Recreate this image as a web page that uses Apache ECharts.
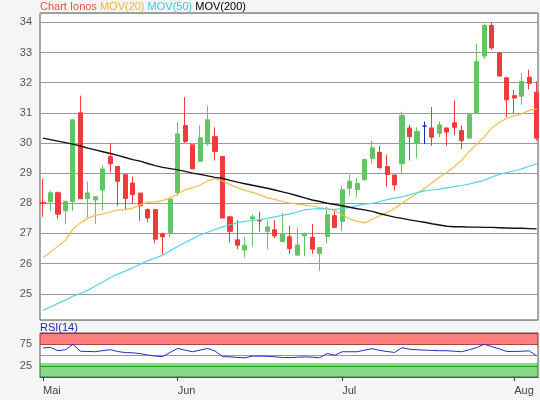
<!DOCTYPE html>
<html>
<head>
<meta charset="utf-8">
<title>Chart Ionos</title>
<script src="https://cdn.jsdelivr.net/npm/echarts@6/dist/echarts.min.js"></script>
<style>
  html, body { margin: 0; padding: 0; background: #f5f5f5; }
  #chart { width: 540px; height: 400px; }
</style>
</head>
<body>
<div id="chart"></div>
<script>
// Tageskerzen (Eröffnung, Schluss, Tief, Hoch)
const opens = [
  28.03, 28.06, 28.35, 27.75, 28.06, 31.00, 28.16, 28.11, 28.44, 29.55,
  29.22, 28.95, 28.67, 28.34, 27.79, 27.79, 26.98, 27.03, 28.36, 30.58,
  29.94, 29.39, 29.97, 30.21, 29.55, 27.55, 26.79, 26.45, 27.48, 27.44,
  27.07, 27.12, 26.73, 26.89, 26.28, 26.92, 26.87, 26.34, 26.90, 27.59,
  27.40, 28.50, 28.45, 28.78, 29.49, 29.69, 29.22, 28.94, 29.31, 30.50,
  29.99, 30.56, 30.50, 30.32, 30.50, 30.67, 30.41, 30.16, 30.99, 32.88,
  33.90, 32.99, 32.16, 31.57, 31.55, 32.18, 31.68
]
const closes = [
  28.00, 28.35, 27.64, 28.06, 30.77, 28.15, 28.34, 28.22, 29.14, 29.31,
  28.73, 28.16, 28.29, 27.92, 27.51, 26.81, 26.89, 28.14, 30.30, 30.05,
  29.14, 30.17, 30.77, 29.72, 27.51, 27.07, 26.61, 26.61, 27.55, 27.41,
  27.22, 26.92, 26.98, 26.50, 26.62, 26.98, 26.48, 26.53, 27.62, 27.20,
  28.45, 28.73, 28.66, 29.45, 29.84, 29.19, 28.95, 28.61, 30.91, 30.21,
  30.38, 30.56, 30.19, 30.60, 30.36, 30.52, 30.08, 30.94, 32.70, 33.90,
  33.15, 32.22, 31.43, 31.49, 32.04, 31.98, 30.16
]
const lows = [
  27.55, 27.75, 27.48, 27.31, 27.75, 28.14, 27.53, 27.31, 27.78, 29.03,
  27.92, 27.81, 27.98, 27.42, 27.37, 26.67, 26.31, 26.87, 28.25, 30.00,
  29.14, 29.39, 29.91, 29.42, 27.51, 26.70, 26.48, 26.20, 26.56, 27.06,
  26.48, 26.85, 26.70, 26.32, 26.28, 26.24, 26.32, 25.76, 26.67, 27.20,
  27.07, 28.25, 28.20, 28.75, 29.31, 29.14, 28.55, 28.42, 28.97, 29.42,
  29.49, 29.97, 29.91, 30.19, 29.91, 30.25, 29.80, 30.16, 30.97, 32.79,
  33.09, 32.20, 30.85, 30.99, 31.27, 31.77, 30.08
]
const highs = [
  28.81, 28.42, 28.39, 28.09, 30.78, 31.57, 28.72, 28.22, 29.25, 30.00,
  29.22, 28.95, 28.89, 28.34, 27.83, 27.79, 27.03, 28.14, 30.69, 31.52,
  29.94, 30.58, 31.24, 30.52, 29.55, 27.59, 27.44, 26.89, 27.64, 27.72,
  27.44, 27.45, 27.68, 27.26, 27.20, 27.03, 27.31, 26.53, 27.89, 27.75,
  28.58, 28.94, 28.84, 29.45, 30.08, 29.91, 29.61, 28.94, 31.04, 30.61,
  30.52, 30.71, 31.19, 30.71, 30.50, 31.41, 30.58, 30.94, 33.29, 33.96,
  33.99, 32.99, 32.18, 31.76, 32.32, 32.43, 32.04
]
// gleitende Durchschnitte
const mov20 = [
  26.20, 26.38, 26.58, 26.77, 27.15, 27.35, 27.50, 27.60, 27.65, 27.71,
  27.78, 27.79, 27.84, 27.95, 28.04, 28.05, 28.09, 28.18, 28.31, 28.45,
  28.52, 28.60, 28.75, 28.82, 28.74, 28.62, 28.52, 28.43, 28.36, 28.28,
  28.18, 28.13, 28.06, 28.01, 27.97, 27.94, 27.91, 27.86, 27.82, 27.76,
  27.62, 27.48, 27.40, 27.35, 27.47, 27.58, 27.70, 27.83, 28.00, 28.17,
  28.33, 28.48, 28.67, 28.87, 29.02, 29.22, 29.44, 29.72, 29.97, 30.20,
  30.50, 30.68, 30.82, 30.90, 30.97, 31.08, 31.13
]
const mov50 = [
  24.45, 24.56, 24.68, 24.79, 24.92, 25.01, 25.12, 25.26, 25.39, 25.54,
  25.65, 25.75, 25.86, 25.98, 26.10, 26.18, 26.28, 26.43, 26.57, 26.70,
  26.82, 26.95, 27.04, 27.13, 27.22, 27.29, 27.36, 27.40, 27.43, 27.46,
  27.50, 27.55, 27.60, 27.65, 27.71, 27.78, 27.81, 27.82, 27.81, 27.80,
  27.82, 27.86, 27.92, 27.97, 28.00, 28.05, 28.12, 28.17, 28.21, 28.28,
  28.35, 28.41, 28.44, 28.47, 28.51, 28.55, 28.59, 28.64, 28.70, 28.76,
  28.87, 28.96, 29.02, 29.07, 29.14, 29.23, 29.31
]
const mov200 = [
  30.16, 30.11, 30.06, 30.01, 29.96, 29.90, 29.83, 29.77, 29.71, 29.65,
  29.59, 29.52, 29.45, 29.40, 29.32, 29.25, 29.19, 29.15, 29.11, 29.06,
  29.00, 28.96, 28.91, 28.86, 28.83, 28.76, 28.70, 28.65, 28.60, 28.55,
  28.50, 28.44, 28.38, 28.32, 28.25, 28.18, 28.11, 28.06, 28.00, 27.96,
  27.92, 27.87, 27.82, 27.78, 27.73, 27.66, 27.60, 27.54, 27.50, 27.45,
  27.41, 27.37, 27.32, 27.28, 27.24, 27.22, 27.22, 27.21, 27.21, 27.20,
  27.20, 27.19, 27.18, 27.17, 27.17, 27.16, 27.15
]
const rsi14 = [
  65.8, 67.4, 59.7, 62.0, 74.5, 58.5, 58.0, 57.5, 60.0, 62.0,
  58.0, 55.5, 55.0, 53.0, 50.0, 47.5, 46.5, 56.0, 65.0, 61.0,
  57.4, 61.0, 65.0, 59.0, 46.5, 45.8, 44.5, 43.5, 47.5, 47.5,
  47.0, 46.0, 44.5, 44.0, 45.0, 45.8, 45.0, 44.0, 53.5, 49.5,
  57.4, 57.4, 57.4, 61.0, 64.4, 60.5, 58.0, 55.8, 66.7, 63.0,
  62.0, 61.0, 60.5, 59.7, 59.7, 58.5, 57.4, 62.0, 67.0, 74.5,
  69.0, 64.0, 58.0, 58.0, 58.5, 59.5, 48.0
]
// Achsen
const priceTicks = [25, 26, 27, 28, 29, 30, 31, 32, 33, 34]
const monthStarts = [0, 18, 40, 63]
const monthNames = ['Mai', 'Jun', 'Jul', 'Aug']

const green = '#63c463'
const red = '#ef3b3b'
const xMin = -0.4
const xMax = 66.18

const chart = echarts.init(document.getElementById('chart'))

const option = {
  backgroundColor: '#f5f5f5',
  animation: false,
  textStyle: {
    fontFamily: 'Liberation Sans, Arial, sans-serif'
  },
  title: [{
    left: 40,
    top: 1,
    padding: 0,
    text: '{a|Chart Ionos} {b|MOV(20)} {c|MOV(50)} {d|MOV(200)}',
    textStyle: {
      fontSize: 11,
      fontWeight: 'normal',
      rich: {
        a: { color: '#e8553c', fontSize: 11 },
        b: { color: '#f5b731', fontSize: 11 },
        c: { color: '#3fc6e2', fontSize: 11 },
        d: { color: '#000', fontSize: 11 }
      }
    }
  }, {
    left: 40,
    top: 322,
    padding: 0,
    text: 'RSI(14)',
    textStyle: {
      fontSize: 11,
      fontWeight: 'normal',
      color: '#2222b0'
    }
  }],
  grid: [{
    left: 40,
    right: 2,
    top: 13,
    bottom: 80,
    show: true,
    backgroundColor: '#fff',
    borderColor: '#555',
    borderWidth: 1
  }, {
    left: 40,
    right: 2,
    top: 333,
    bottom: 23,
    show: true,
    backgroundColor: '#fff',
    borderColor: '#555',
    borderWidth: 1
  }],
  xAxis: [{
    gridIndex: 0,
    type: 'value',
    min: xMin,
    max: xMax,
    axisLine: { show: false },
    axisTick: { show: false },
    axisLabel: { show: false },
    splitLine: { show: false }
  }, {
    gridIndex: 1,
    type: 'value',
    min: xMin,
    max: xMax,
    axisLine: { show: true, lineStyle: { color: '#555' } },
    axisTick: {
      show: true,
      length: 4,
      customValues: monthStarts,
      lineStyle: { color: '#333' }
    },
    axisLabel: {
      customValues: monthStarts,
      align: 'left',
      margin: 8,
      fontSize: 11,
      color: '#444',
      formatter: (v) => monthNames[monthStarts.indexOf(v)]
    },
    splitLine: { show: false }
  }],
  yAxis: [{
    gridIndex: 0,
    type: 'value',
    min: 24.13,
    max: 34.31,
    splitNumber: 10,
    axisLine: { show: false },
    axisTick: { show: false },
    axisLabel: {
      customValues: priceTicks,
      margin: 8,
      fontSize: 11,
      color: '#555'
    },
    splitLine: { lineStyle: { color: '#999' } }
  }, {
    gridIndex: 1,
    type: 'value',
    min: 0,
    max: 100,
    interval: 25,
    axisLine: { show: false },
    axisTick: { show: false },
    axisLabel: {
      margin: 8,
      fontSize: 11,
      color: '#555',
      formatter: (v) => (v === 25 || v === 75) ? v : ''
    },
    splitLine: {
      lineStyle: { color: ['#555', '#2f8f2f', '#999', '#b04040', '#555'] }
    }
  }],
  series: [{
    name: 'Ionos',
    type: 'candlestick',
    xAxisIndex: 0,
    yAxisIndex: 0,
    barWidth: 4.6,
    itemStyle: {
      color: green,
      color0: red,
      borderColor: green,
      borderColor0: red,
      borderColorDoji: '#2020c0',
      borderWidth: 1
    },
    data: opens.map((o, i) => [i, o, closes[i], lows[i], highs[i]])
  }, {
    name: 'MOV(20)',
    type: 'line',
    xAxisIndex: 0,
    yAxisIndex: 0,
    symbol: 'none',
    lineStyle: { color: '#f5bd4c', width: 1.2 },
    data: mov20.map((v, i) => [i, v])
  }, {
    name: 'MOV(50)',
    type: 'line',
    xAxisIndex: 0,
    yAxisIndex: 0,
    symbol: 'none',
    lineStyle: { color: '#56d2ea', width: 1.2 },
    data: mov50.map((v, i) => [i, v])
  }, {
    name: 'MOV(200)',
    type: 'line',
    xAxisIndex: 0,
    yAxisIndex: 0,
    symbol: 'none',
    lineStyle: { color: '#111', width: 1.4 },
    data: mov200.map((v, i) => [i, v])
  }, {
    name: 'RSI(14)',
    type: 'line',
    xAxisIndex: 1,
    yAxisIndex: 1,
    symbol: 'none',
    lineStyle: { color: '#2a2ac0', width: 1 },
    markArea: {
      silent: true,
      data: [
        [{ yAxis: 75, itemStyle: { color: 'rgba(255,0,0,0.5)' } }, { yAxis: 100 }],
        [{ yAxis: 0, itemStyle: { color: 'rgba(0,172,0,0.47)' } }, { yAxis: 32 }]
      ]
    },
    data: rsi14.map((v, i) => [i, v])
  }]
}

chart.setOption(option)
</script>
</body>
</html>
